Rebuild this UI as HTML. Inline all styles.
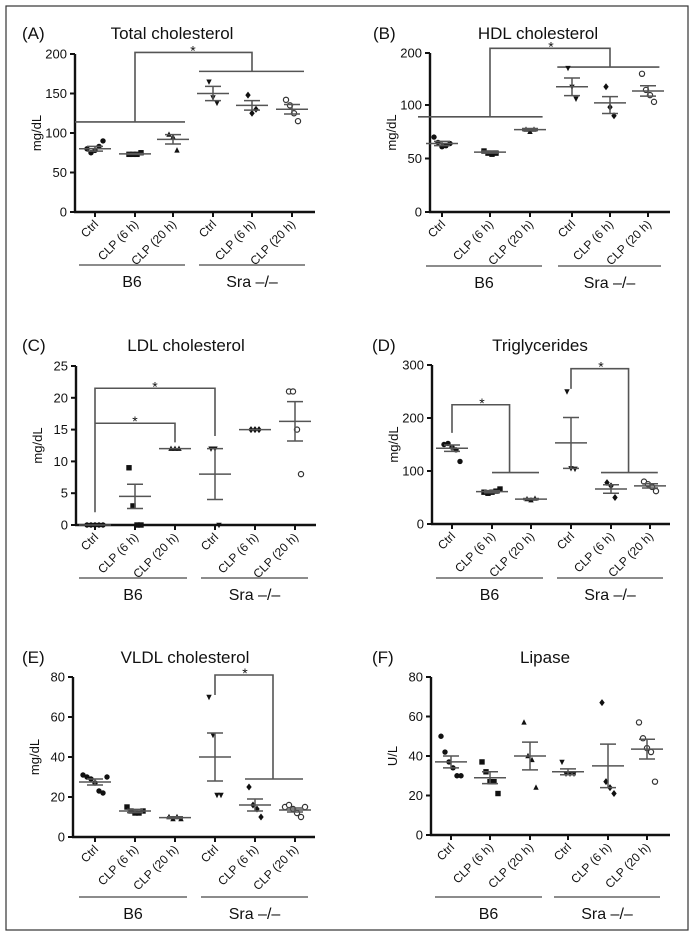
<!DOCTYPE html>
<html><head><meta charset="utf-8"><style>
html,body{margin:0;padding:0;background:#fff;}
svg{display:block;font-family:"Liberation Sans",Arial,sans-serif;}
</style></head><body>
<svg id="fig" width="695" height="945" viewBox="0 0 695 945" xmlns="http://www.w3.org/2000/svg">
<rect x="6" y="6" width="682" height="924" fill="none" stroke="#333" stroke-width="1.2"/>
</svg>
<script>
const categories = ["Ctrl","CLP (6 h)","CLP (20 h)","Ctrl","CLP (6 h)","CLP (20 h)"];
const groupLabels = ["B6","Sra \u2013/\u2013"];

const totalPoints = [[80,75,78,83,90],[73,73,73,75],[98,95,78],[165,145,138],[148,125,130],[142,135,125,115]];
const totalMeans = [80,73.5,92,150,135,130];
const totalSem = [3,0.5,6,9,6,6];

const hdlPoints = [[70,65,61,62,64],[57,55,54,55],[77,75,77],[171,135,112],[135,98,90],[160,129,119,106]];
const hdlMeans = [64,56,77,135,104,127];
const hdlSem = [2,1,1,17,12,10];

const ldlPoints = [[0,0,0,0,0],[9,3,0,0],[12,12,12],[12,12,0],[15,15,15],[21,21,15,8]];
const ldlMeans = [0,4.5,12,8,15,16.3];
const ldlSem = [0,1.9,0,4,0,3.1];

const tgPoints = [[150,152,145,140,118],[60,58,60,62,66],[47,45,48],[250,105,104],[78,72,50],[80,75,70,62]];
const tgMeans = [143,61,47,153,66,72];
const tgSem = [6,2,1,48,8,4];

const vldlPoints = [[31,30,29,27,23,22,30],[15,13,12,12,13],[10,9,10,9],[70,51,21,21],[25,16,14,10],[15,16,14,12,10,15]];
const vldlMeans = [27.5,13,9.7,40,16,13.5];
const vldlSem = [1.5,0.8,0.4,12,3,1];

const lipasePoints = [[50,42,37,34,30,30],[37,32,27,27,21],[57,40,38,24],[37,31,31,31],[67,27,24,21],[57,49,44,42,27]];
const lipaseMeans = [37,29,40,32,35,43.5];
const lipaseSem = [3,3,7,1.5,11,5];

const totalTicks = [0,50,100,150,200];
const hdlTicks = [0,50,100,200];
const ldlTicks = [0,5,10,15,20,25];
const tgTicks = [0,100,200,300];
const vldlTicks = [0,20,40,60,80];
const lipaseTicks = [0,20,40,60,80];

const NS="http://www.w3.org/2000/svg";
const svg=document.getElementById('fig');
function mk(tag,attrs,parent,txt){const e=document.createElementNS(NS,tag);for(const k in attrs)e.setAttribute(k,attrs[k]);if(txt!==undefined)e.textContent=txt;(parent||svg).appendChild(e);return e;}

const panels=[
 {id:'a',letter:'(A)',title:'Total cholesterol',ylab:'mg/dL',ax:75,y0:212,yt:54,dom:[0,200],xs:[95,135,173,213,252,292],xend:315,gl:265,lx:22,ty:33,tx:172,pts:totalPoints,means:totalMeans,sem:totalSem,ticks:totalTicks,
  br:[[[-0.5,114],[2.3,114]],[[2.65,178],[5.3,178]],[[1,114],[1,202],[4,202],[4,178]]],stars:[[2.5,202]]},
 {id:'b',letter:'(B)',title:'HDL cholesterol',ylab:'mg/dL',ax:430,y0:212,yt:53,pw:[[0,212],[100,105],[200,53]],xs:[442,490,530,572,610,648],xend:670,gl:266,lx:373,ty:33,tx:538,pts:hdlPoints,means:hdlMeans,sem:hdlSem,ticks:hdlTicks,
  br:[[[-0.5,89],[2.3,89]],[[2.65,173],[5.3,173]],[[1,89],[1,209],[4,209],[4,173]]],stars:[[2.5,209]]},
 {id:'c',letter:'(C)',title:'LDL cholesterol',ylab:'mg/dL',ax:76,y0:525,yt:366,dom:[0,25],xs:[95,135,175,215,255,295],xend:316,gl:578,lx:22,ty:345,tx:186,pts:ldlPoints,means:ldlMeans,sem:ldlSem,ticks:ldlTicks,
  br:[[[0,2],[0,21.5],[3,21.5],[3,14]],[[0,16],[2,16],[2,13]]],stars:[[1.5,21.5],[1,16]]},
 {id:'d',letter:'(D)',title:'Triglycerides',ylab:'mg/dL',ax:432,y0:524,yt:365,dom:[0,300],xs:[452,492,531,571,611,650],xend:670,gl:578,lx:372,ty:345,tx:540,pts:tgPoints,means:tgMeans,sem:tgSem,ticks:tgTicks,
  br:[[[0,172],[0,225],[1.45,225],[1.45,97]],[[1,97],[2.2,97]],[[3,255],[3,293],[4.45,293],[4.45,97]],[[3.75,97],[5.2,97]]],stars:[[0.75,225],[3.75,293]]},
 {id:'e',letter:'(E)',title:'VLDL cholesterol',ylab:'mg/dL',ax:73,y0:837,yt:677,dom:[0,80],xs:[95,135,175,215,255,295],xend:315,gl:897,lx:22,ty:657,tx:185,pts:vldlPoints,means:vldlMeans,sem:vldlSem,ticks:vldlTicks,
  br:[[[3,71],[3,81],[4.45,81],[4.45,29]],[[3.75,29],[5.2,29]]],stars:[[3.75,81]]},
 {id:'f',letter:'(F)',title:'Lipase',ylab:'U/L',ax:431,y0:835,yt:677,dom:[0,80],xs:[451,490,530,568,608,647],xend:670,gl:897,lx:372,ty:657,tx:545,pts:lipasePoints,means:lipaseMeans,sem:lipaseSem,ticks:lipaseTicks,
  br:[],stars:[]}
];

function marker(g,kind,x,y){
  const r=2.7;let e;
  if(kind===0){e=mk('circle',{cx:x,cy:y,r:r,fill:'#111'},g);}
  else if(kind===1){e=mk('rect',{x:x-r,y:y-r,width:2*r,height:2*r,fill:'#111'},g);}
  else if(kind===2){e=mk('polygon',{points:`${x},${y-r-0.5} ${x-r},${y+r-0.5} ${x+r},${y+r-0.5}`,fill:'#111'},g);}
  else if(kind===3){e=mk('polygon',{points:`${x},${y+r+0.5} ${x-r},${y-r+0.5} ${x+r},${y-r+0.5}`,fill:'#111'},g);}
  else if(kind===4){e=mk('polygon',{points:`${x},${y-r-0.8} ${x+r},${y} ${x},${y+r+0.8} ${x-r},${y}`,fill:'#111'},g);}
  else {e=mk('circle',{cx:x,cy:y,r:2.6,fill:'#fff',stroke:'#333','stroke-width':1.2},g);}
  return e;
}

panels.forEach(p=>{
  const g=mk('g',{});
  
  
  const yS=v=>{
    if(p.pw){const w=p.pw;for(let i=1;i<w.length;i++){if(v<=w[i][0]||i===w.length-1){const a=w[i-1],b=w[i];return a[1]+(v-a[0])/(b[0]-a[0])*(b[1]-a[1]);}}}
    return p.y0-(v-p.dom[0])/(p.dom[1]-p.dom[0])*(p.y0-p.yt);
  };
  const xS=c=>{const i=Math.floor(Math.min(Math.max(c,0),4.999));const f=c-i;return p.xs[i]+f*(p.xs[i+1]-p.xs[i]);};
  const lt=mk('text',{x:p.lx,y:p.ty+6,'font-size':17,fill:'#111'},g,p.letter);
  
  
  const tt=mk('text',{x:p.tx,y:p.ty+6,'font-size':17,'text-anchor':'middle',fill:'#111'},g,p.title);
  
  
  const yl=mk('text',{x:0,y:0,'font-size':13,'text-anchor':'middle',fill:'#111',transform:`translate(${p.ax-34},${(p.y0+p.yt)/2}) rotate(-90)`},g,p.ylab);
  
  
  const ya=mk('line',{x1:p.ax,y1:yS(p.ticks[p.ticks.length-1]),x2:p.ax,y2:p.y0+1,stroke:'#111','stroke-width':2.4},g);
  
  
  const xa=mk('line',{x1:p.ax-1,y1:p.y0,x2:p.xend,y2:p.y0,stroke:'#111','stroke-width':2.4},g);
  
  
  p.ticks.forEach(t=>{
    const y=yS(t);
    mk('line',{x1:p.ax-5,y1:y,x2:p.ax,y2:y,stroke:'#111','stroke-width':2},g);
    const tl=mk('text',{x:p.ax-8,y:y+4.5,'font-size':13,'text-anchor':'end',fill:'#111'},g,String(t));
    
    
  });
  categories.forEach((c,i)=>{
    const x=p.xs[i];
    mk('line',{x1:x,y1:p.y0,x2:x,y2:p.y0+5,stroke:'#111','stroke-width':2},g);
    const cl=mk('text',{x:0,y:0,'font-size':12,'text-anchor':'end',fill:'#111',transform:`translate(${x+4},${p.y0+13}) rotate(-45)`},g,c);
    
    
  });
  [[p.xs[0]-16,p.xs[2]+12],[p.xs[3]-14,p.xs[5]+13]].forEach((r,k)=>{
    const gline=mk('line',{x1:r[0],y1:p.gl,x2:r[1],y2:p.gl,stroke:'#666','stroke-width':1.5},g);
    
    
    const gt=mk('text',{x:(r[0]+r[1])/2,y:p.gl+22,'font-size':16,'text-anchor':'middle',fill:'#111'},g,groupLabels[k]);
    
    
  });
  p.br.forEach(b=>{
    const pl=mk('polyline',{points:b.map(q=>xS(q[0])+','+yS(q[1])).join(' '),fill:'none',stroke:'#555','stroke-width':1.6},g);
    
    
  });
  p.stars.forEach(s=>{
    const st=mk('text',{x:xS(s[0]),y:yS(s[1])+3,'font-size':14,'text-anchor':'middle',fill:'#111'},g,'*');
    
    
  });
  p.pts.forEach((arr,i)=>{
    const cx=p.xs[i];
    arr.forEach((v,j)=>{
      const m=marker(g,i,cx+(j-(arr.length-1)/2)*4,yS(v));
      
      
    });
    const ym=yS(p.means[i]),yh=yS(p.means[i]+p.sem[i]),ylo=yS(p.means[i]-p.sem[i]);
    const ml=mk('line',{x1:cx-16,y1:ym,x2:cx+16,y2:ym,stroke:'#555','stroke-width':1.5},g);
    
    
    if(p.sem[i]>0){
      const el=mk('path',{d:`M${cx},${yh}V${ylo}M${cx-8},${yh}H${cx+8}M${cx-8},${ylo}H${cx+8}`,stroke:'#555','stroke-width':1.5,fill:'none'},g);
      
      
    }
  });
});
</script>
</body></html>
